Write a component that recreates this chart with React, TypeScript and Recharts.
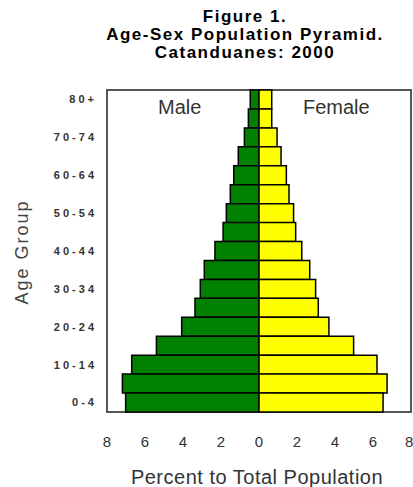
import React from "react";
import { BarChart, Bar, XAxis, YAxis, ReferenceArea } from "recharts";

// Age groups from youngest to oldest
const ageGroups = [
  "0-4", "5-9", "10-14", "15-19", "20-24", "25-29", "30-34", "35-39",
  "40-44", "45-49", "50-54", "55-59", "60-64", "65-69", "70-74", "75-79", "80+",
];
// Percent of total population
const malePct = [7.02, 7.19, 6.7, 5.4, 4.07, 3.37, 3.09, 2.88, 2.32, 1.89, 1.72, 1.51, 1.33, 1.09, 0.77, 0.56, 0.46];
const femalePct = [6.53, 6.74, 6.21, 4.98, 3.68, 3.12, 2.98, 2.67, 2.25, 1.93, 1.82, 1.58, 1.44, 1.16, 0.95, 0.67, 0.67];
const xTicks = [-8, -6, -4, -2, 0, 2, 4, 6, 8];
const titleLines = ["Figure 1.", "Age-Sex Population Pyramid.", "Catanduanes: 2000"];

// Oldest at top
const data = ageGroups
  .map((g, i) => ({ group: g, male: -malePct[i], female: femalePct[i] }))
  .reverse();

const FONT = "'Liberation Sans', Arial, sans-serif";

export default function App() {
  return (
    <div style={{ position: "absolute", left: 0, top: 0, width: 413, height: 487, fontFamily: FONT, background: "#fff" }}>
      <div
        style={{
          position: "absolute",
          left: 45,
          width: 400,
          top: 8,
          textAlign: "center",
          fontWeight: "bold",
          fontSize: 17,
          letterSpacing: 1.5,
          lineHeight: "17.8px",
          color: "#000",
        }}
      >
        {titleLines.map((t) => (
          <div key={t}>{t}</div>
        ))}
      </div>
      <BarChart
        width={413}
        height={487}
        data={data}
        layout="vertical"
        stackOffset="sign"
        barCategoryGap={0}
        margin={{ top: 90, right: 2, bottom: 20, left: 47 }}
      >
        <ReferenceArea x1={-8} x2={8} fill="none" stroke="#555" strokeWidth={2} ifOverflow="visible" />
        <XAxis
          type="number"
          domain={[-8, 8]}
          ticks={xTicks}
          tickFormatter={(v: number) => String(Math.abs(v))}
          axisLine={false}
          tickLine={false}
          tickMargin={18}
          height={55}
          tick={{ fill: "#333", fontSize: 15, fontFamily: FONT }}
        />
        <YAxis
          type="category"
          dataKey="group"
          width={60}
          interval={1}
          axisLine={false}
          tickLine={false}
          tickMargin={4}
          tick={{ fill: "#333", fontSize: 11, fontWeight: "bold", fontFamily: FONT, letterSpacing: 3 }}
        />
        <Bar dataKey="male" stackId="a" fill="#008000" stroke="#000" strokeWidth={1.5} isAnimationActive={false} />
        <Bar dataKey="female" stackId="a" fill="#FFFF00" stroke="#000" strokeWidth={1.5} isAnimationActive={false} />
      </BarChart>
      <div style={{ position: "absolute", left: 158, top: 96, fontSize: 20, color: "#333" }}>Male</div>
      <div style={{ position: "absolute", left: 303, top: 96, fontSize: 20, color: "#333" }}>Female</div>
      <div
        style={{
          position: "absolute",
          left: 22,
          top: 252,
          transform: "translate(-50%, -50%) rotate(-90deg)",
          fontSize: 18,
          letterSpacing: 2,
          color: "#444",
          whiteSpace: "nowrap",
        }}
      >
        Age Group
      </div>
      <div
        style={{
          position: "absolute",
          left: 257,
          top: 477,
          transform: "translate(-50%, -50%)",
          fontSize: 20,
          letterSpacing: 0.5,
          color: "#333",
          whiteSpace: "nowrap",
        }}
      >
        Percent to Total Population
      </div>
    </div>
  );
}
